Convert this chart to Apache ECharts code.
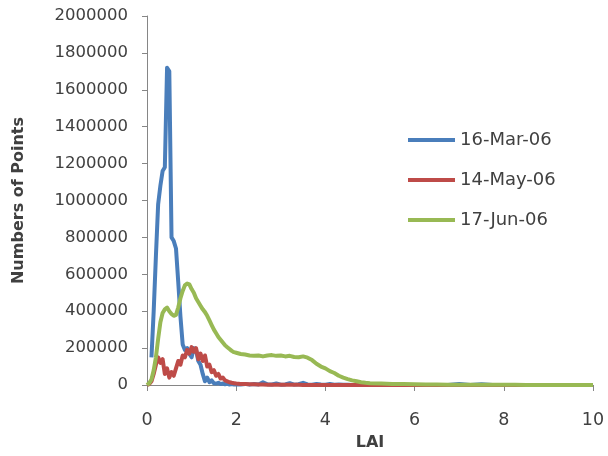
<!DOCTYPE html>
<html>
<head>
<meta charset="utf-8">
<script src="https://cdn.jsdelivr.net/npm/echarts@6/dist/echarts.min.js"></script>
<style>
  html, body { margin: 0; padding: 0; background: #fff; }
  #chart { width: 608px; height: 456px; }
</style>
</head>
<body>
<div id="chart"></div>
<script>
// LAI bins (x values)
const lai = [
  0, 0.05, 0.1, 0.15, 0.2, 0.25, 0.3, 0.35, 0.4, 0.45,
  0.5, 0.55, 0.6, 0.65, 0.7, 0.75, 0.8, 0.85, 0.9, 0.95,
  1.0, 1.05, 1.1, 1.15, 1.2, 1.25, 1.3, 1.35, 1.4, 1.45,
  1.5, 1.55, 1.6, 1.65, 1.7, 1.75, 1.8, 1.85, 1.9, 1.95,
  2.0,
  2.1, 2.2, 2.3, 2.4, 2.5, 2.6, 2.7, 2.8, 2.9, 3.0,
  3.1, 3.2, 3.3, 3.4, 3.5, 3.6, 3.7, 3.8, 3.9, 4.0,
  4.1, 4.2, 4.3, 4.4, 4.5, 4.6, 4.7, 4.8, 4.9, 5.0,
  5.25, 5.5, 5.75, 6.0, 6.25, 6.5, 6.75, 7.0, 7.25, 7.5,
  7.75, 8.0, 8.25, 8.5, 8.75, 9.0, 9.25, 9.5, 9.75, 10.0
];

const mar16 = [
  null, null, 150000, 400000, 700000, 980000, 1080000, 1160000, 1180000, 1720000,
  1700000, 800000, 780000, 740000, 560000, 370000, 220000, 190000, 200000, 170000,
  150000, 200000, 190000, 130000, 110000, 60000, 20000, 40000, 15000, 25000,
  10000, 8000, 12000, 5000, 8000, 4000, 6000, 3000, 5000, 3000,
  4000,
  3000, 6000, 2000, 5000, 3000, 15000, 4000, 3000, 8000, 2000,
  3000, 10000, 2000, 4000, 12000, 3000, 2000, 6000, 3000, 2000,
  5000, 2000, 3000, 1000, 2000, 0, 0, 0, 0, 0,
  0, 0, 0, 0, 0, 0, 0, 6000, 0, 4000,
  0, 0, 0, 0, 0, 0, 0, 0, 0, 0
];

const may14 = [
  0, 5000, 20000, 60000, 110000, 150000, 120000, 140000, 60000, 90000,
  40000, 70000, 50000, 90000, 130000, 110000, 160000, 150000, 190000, 170000,
  205000, 180000, 200000, 140000, 170000, 130000, 160000, 100000, 110000, 70000,
  80000, 50000, 60000, 35000, 40000, 25000, 20000, 15000, 12000, 10000,
  8000,
  6000, 5000, 4000, 4000, 3000, 3000, 2000, 2000, 2000, 1000,
  1000, 1000, 1000, 1000, 500, 0, 0, 0, 0, 0,
  0, 0, 0, 0, 0, 0, 0, 0, 0, 0,
  0, 0, 0, 0, 0, 0, 0, 0, 0, 0,
  0, 0, 0, 0, 0, 0, 0, 0, 0, 0
];

const jun17 = [
  0, 10000, 30000, 80000, 150000, 250000, 340000, 390000, 410000, 420000,
  400000, 385000, 375000, 380000, 420000, 470000, 510000, 540000, 550000, 545000,
  520000, 500000, 470000, 450000, 430000, 410000, 395000, 375000, 350000, 325000,
  300000, 280000, 260000, 245000, 230000, 215000, 205000, 195000, 185000, 178000,
  175000,
  168000, 165000, 160000, 158000, 160000, 155000, 160000, 162000, 158000, 160000,
  155000, 158000, 152000, 150000, 155000, 148000, 135000, 115000, 100000, 90000,
  75000, 65000, 50000, 40000, 32000, 25000, 20000, 15000, 12000, 10000,
  8000, 6000, 5000, 4000, 3000, 2500, 2000, 2000, 1500, 1500,
  1000, 1000, 1000, 500, 500, 500, 0, 0, 0, 0
];

const seriesNames = ['16-Mar-06', '14-May-06', '17-Jun-06'];
const seriesColors = ['#4a7ebb', '#be4b48', '#98b954'];
const seriesValues = [mar16, may14, jun17];

const font = 'DejaVu Sans';
const textColor = '#404040';
const axisColor = '#868686';

const chart = echarts.init(document.getElementById('chart'));

chart.setOption({
  animation: false,
  backgroundColor: '#fff',
  grid: { left: 147, right: 15, top: 16, bottom: 66 },
  legend: {
    orient: 'vertical',
    left: 403,
    top: 126,
    itemWidth: 47,
    itemHeight: 4,
    itemGap: 22,
    icon: 'rect',
    textStyle: { fontFamily: font, fontSize: 18, color: textColor },
    data: seriesNames
  },
  xAxis: {
    type: 'value',
    min: 0,
    max: 10,
    interval: 2,
    name: 'LAI',
    nameLocation: 'middle',
    nameGap: 50,
    nameTextStyle: { fontFamily: font, fontSize: 16, fontWeight: 'bold', color: textColor },
    axisLine: { show: true, lineStyle: { color: axisColor, width: 1 } },
    axisTick: { show: true, length: 6, lineStyle: { color: axisColor } },
    axisLabel: { fontFamily: font, fontSize: 17.5, color: textColor, margin: 26 },
    splitLine: { show: false }
  },
  yAxis: {
    type: 'value',
    min: 0,
    max: 2000000,
    interval: 200000,
    name: 'Numbers of Points',
    nameLocation: 'middle',
    nameGap: 120,
    nameTextStyle: { fontFamily: font, fontSize: 16, fontWeight: 'bold', color: textColor },
    axisLine: { show: true, lineStyle: { color: axisColor, width: 1 } },
    axisTick: { show: true, length: 5, lineStyle: { color: axisColor } },
    axisLabel: { fontFamily: font, fontSize: 16.5, color: textColor, margin: 19, formatter: v => String(v) },
    splitLine: { show: false }
  },
  series: seriesNames.map((name, i) => ({
    name: name,
    type: 'line',
    showSymbol: false,
    connectNulls: false,
    color: seriesColors[i],
    lineStyle: { width: 4, color: seriesColors[i], join: 'round' },
    data: lai.map((x, j) => [x, seriesValues[i][j]])
  }))
});
</script>
</body>
</html>
